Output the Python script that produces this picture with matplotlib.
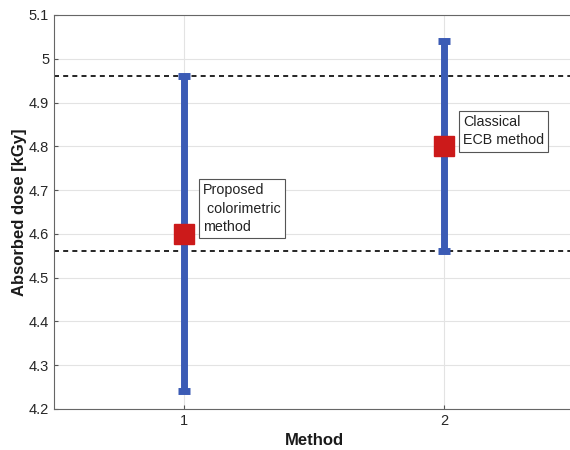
import matplotlib
matplotlib.use('Agg')
import matplotlib.pyplot as plt
from matplotlib.ticker import FuncFormatter

plt.rcParams['font.family'] = ['Liberation Sans', 'DejaVu Sans']

# data
methods = [1, 2]
dose = [4.6, 4.8]
dose_low = [4.24, 4.56]
dose_high = [4.96, 5.04]
ref_lines = [4.96, 4.56]
labels = ['Proposed\n colorimetric\nmethod', 'Classical\nECB method']
label_pos = [(1.073, 4.716), (2.073, 4.872)]

fig = plt.figure(figsize=(5.7, 4.5), dpi=100)
ax = fig.add_axes([54/570, 41/450, 520/570, 394/450])

yerr = [[d - lo for d, lo in zip(dose, dose_low)],
        [hi - d for d, hi in zip(dose, dose_high)]]
ax.errorbar(methods, dose, yerr=yerr, fmt='none', ecolor='#3b5bb5',
            elinewidth=5, capsize=4.5, capthick=5, zorder=3)
ax.plot(methods, dose, 's', color='#cc1a1a', markersize=15, zorder=4)

for y in ref_lines:
    ax.axhline(y, color='black', linestyle='--', linewidth=1.2,
               dashes=(3, 2.5), zorder=2)

for txt, (x, y) in zip(labels, label_pos):
    ax.text(x, y, txt, ha='left', va='top', fontsize=10.3, color='#222222',
            linespacing=1.4,
            bbox=dict(boxstyle='square,pad=0.3', facecolor='white',
                      edgecolor='#555555', linewidth=0.8), zorder=5)

ax.set_xlim(0.5, 2.5)
ax.set_ylim(4.2, 5.1)
ax.set_xticks(methods)
ax.set_yticks([4.2 + 0.1 * i for i in range(10)])
ax.yaxis.set_major_formatter(FuncFormatter(lambda v, p: '%g' % round(v, 2)))
ax.grid(True, color='#e3e3e3', linewidth=0.8, zorder=0)
ax.set_axisbelow(True)
ax.tick_params(direction='in', length=3, colors='#555555',
               labelcolor='#262626', labelsize=10.5)
for s in ax.spines.values():
    s.set_color('#666666')
    s.set_linewidth(0.8)

ax.set_xlabel('Method', fontsize=12, fontweight='bold', color='#1a1a1a')
ax.set_ylabel('Absorbed dose [kGy]', fontsize=12, fontweight='bold',
              color='#1a1a1a', labelpad=1)

plt.savefig('out.png', dpi=100)
